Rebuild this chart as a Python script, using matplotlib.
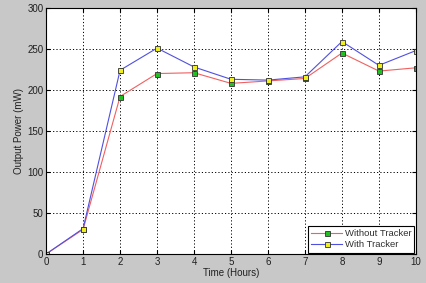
import matplotlib
matplotlib.use('Agg')
import matplotlib.pyplot as plt

# Datos
hours = [0, 1, 2, 3, 4, 5, 6, 7, 8, 9, 10]
without_tracker = [0, 30, 192, 220, 221, 208, 211, 214, 245, 223, 227]
with_tracker = [0, 31, 224, 251, 228, 213, 212, 216, 259, 230, 248]

plt.rcParams['font.family'] = 'Liberation Sans'

fig = plt.figure(figsize=(4.27, 2.83), dpi=100, facecolor='#c8c8c8')
ax = fig.add_axes([0.108, 0.1025, 0.866, 0.8695])
ax.set_facecolor('white')

ax.plot(hours, without_tracker, color='#f06060', lw=0.8, marker='s', ms=3.6,
        mfc='#20c020', mec='#303030', mew=0.6, label='Without Tracker')
ax.plot(hours, with_tracker, color='#5050e0', lw=0.8, marker='s', ms=3.6,
        mfc='#f0f020', mec='#303030', mew=0.6, label='With Tracker')

ax.set_xlim(0, 10)
ax.set_ylim(0, 300)
ax.set_xticks(range(0, 11))
ax.set_yticks(range(0, 301, 50))
ax.grid(True, color='black', linestyle=(0, (1.2, 2.2)), linewidth=0.7)
ax.tick_params(direction='in', top=True, right=True, labelsize=7, length=3, pad=2,
               labelcolor='#202020')
for s in ax.spines.values():
    s.set_linewidth(0.8)

ax.set_xlabel('Time (Hours)', fontsize=7, labelpad=1, color='#202020')
ax.set_ylabel('Output Power (mW)', fontsize=7, labelpad=2, color='#202020')

leg = ax.legend(loc='lower right', fontsize=6.8, fancybox=False, framealpha=1,
                edgecolor='black', borderaxespad=0.15, handlelength=3.2,
                labelspacing=0.2, borderpad=0.35, handletextpad=0.3)
leg.get_frame().set_linewidth(0.8)
for t in leg.get_texts():
    t.set_color('#303030')

fig.savefig('out.png', dpi=100, facecolor=fig.get_facecolor())
